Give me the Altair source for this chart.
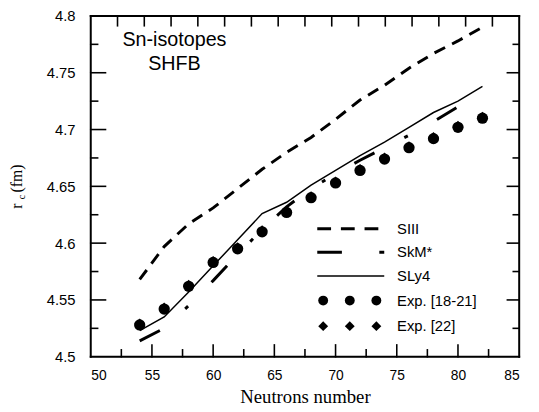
import altair as alt
import pandas as pd

# ---- data ----
neutrons = [54, 56, 58, 60, 62, 64, 66, 68, 70, 72, 74, 76, 78, 80, 82]
siii = [4.568, 4.597, 4.617, 4.631, 4.648, 4.665, 4.680, 4.693, 4.709, 4.726, 4.739, 4.754, 4.767, 4.778, 4.790]
skm = [4.514, 4.525, 4.545, 4.567, 4.590, 4.612, 4.632, 4.648, 4.661, 4.673, 4.684, 4.695, 4.707, 4.720, 4.730]
sly4 = [4.523, 4.535, 4.557, 4.580, 4.603, 4.626, 4.636, 4.651, 4.664, 4.677, 4.689, 4.702, 4.715, 4.725, 4.738]
exp_18_21 = [4.528, 4.542, 4.562, 4.583, 4.595, 4.610, 4.627, 4.640, 4.653, 4.664, 4.674, 4.684, 4.692, 4.702, 4.710]
exp_22 = [4.529, 4.543, 4.563, 4.584, 4.596, 4.611, 4.628, 4.641, 4.654, 4.665, 4.675, 4.685, 4.693, 4.703, 4.711]

legend_labels = ["SIII", "SkM*", "SLy4", "Exp. [18-21]", "Exp. [22]"]
title_lines = ["Sn-isotopes", "SHFB"]

x_labels = [50, 55, 60, 65, 70, 75, 80, 85]
x_major = [55, 60, 65, 70, 75, 80]
x_minor = [52.5, 57.5, 62.5, 67.5, 72.5, 77.5, 82.5]
y_labels = [4.5, 4.55, 4.6, 4.65, 4.7, 4.75, 4.8]
y_major = [4.55, 4.6, 4.65, 4.7, 4.75]
y_minor = [4.525, 4.575, 4.625, 4.675, 4.725, 4.775]
top_ticks = [50 + k * 35 / 16 for k in range(1, 16)]

W, H = 435, 346
X0, X1, Y0, Y1 = 50, 85, 4.5, 4.8
SANS = "Liberation Sans"
SERIF = "Liberation Serif"

df = pd.DataFrame({"N": neutrons, "SIII": siii, "SkM": skm, "SLy4": sly4,
                   "E1": exp_18_21, "E2": exp_22})
one = pd.DataFrame({"k": [0]})

xs = alt.Scale(domain=[X0, X1], range=[0, W], nice=False, zero=False, padding=0)
ys = alt.Scale(domain=[Y0, Y1], range=[H, 0], nice=False, zero=False, padding=0)

base = alt.Chart(df)

x_axis = alt.Axis(values=x_labels, ticks=False, domain=False, grid=False,
                  labelFont=SANS, labelFontSize=14, labelColor="black",
                  labelPadding=12, title="Neutrons number", titleFont=SERIF,
                  titleFontSize=19, titleFontWeight="normal", titleColor="black",
                  titlePadding=5, format="d")
y_axis = alt.Axis(values=y_labels, ticks=False, domain=False, grid=False,
                  labelFont=SANS, labelFontSize=15, labelColor="black",
                  labelPadding=16, title=None,
                  labelExpr="datum.value == 4.5 ? '4.5' : format(datum.value, '.3~f')")

siii_line = base.mark_line(color="black", strokeWidth=3, strokeDash=[12, 8]).encode(
    x=alt.X("N:Q", scale=xs, axis=x_axis),
    y=alt.Y("SIII:Q", scale=ys, axis=y_axis),
)
skm_line = base.mark_line(color="black", strokeWidth=3, strokeDash=[23, 34, 4, 34]).encode(
    x=alt.X("N:Q", scale=xs), y=alt.Y("SkM:Q", scale=ys))
sly4_line = base.mark_line(color="black", strokeWidth=1.5).encode(
    x=alt.X("N:Q", scale=xs), y=alt.Y("SLy4:Q", scale=ys))
e1_pts = base.mark_point(shape="circle", filled=True, color="black", size=130, opacity=1).encode(
    x=alt.X("N:Q", scale=xs), y=alt.Y("E1:Q", scale=ys))
e2_pts = base.mark_point(shape="diamond", filled=True, color="black", size=120, opacity=1).encode(
    x=alt.X("N:Q", scale=xs), y=alt.Y("E2:Q", scale=ys))

# ---- frame and inward ticks (same linear mapping as the scales) ----
def px(v):
    return (v - X0) / (X1 - X0) * W

def py(v):
    return H - (v - Y0) / (Y1 - Y0) * H

frame = []
def hseg(xa, xb, yy, w=1.6):
    frame.append(alt.Chart(one).mark_rule(color="black", strokeWidth=w, strokeCap="square").encode(
        x=alt.value(xa), x2=alt.value(xb), y=alt.value(yy)))

def vseg(xx, ya, yb, w=1.6):
    frame.append(alt.Chart(one).mark_rule(color="black", strokeWidth=w, strokeCap="square").encode(
        x=alt.value(xx), y=alt.value(ya), y2=alt.value(yb)))

# box
hseg(0, W, 0, 2)
hseg(0, W, H, 2)
vseg(0, 0, H, 2)
vseg(W, 0, H, 2)
# ticks
for v in x_major:
    vseg(px(v), H, H - 12)
for v in x_minor:
    vseg(px(v), H, H - 7)
for v in top_ticks:
    vseg(px(v), 0, 10)
for v in y_major:
    hseg(0, 15, py(v))
    hseg(W, W - 12, py(v))
for v in y_minor:
    hseg(0, 7, py(v))
    hseg(W, W - 6, py(v))

# ---- legend (drawn in the plot area) ----
rows = [216, 240, 264, 289, 315]
lx0, lx1, ltx = 230, 298, 311
leg = []
leg.append(alt.Chart(pd.DataFrame({"t": [legend_labels[0]]})).mark_rule(
    color="black", strokeWidth=3, strokeDash=[14, 10]).encode(
    x=alt.value(lx0), x2=alt.value(lx1), y=alt.value(rows[0])))
leg.append(alt.Chart(pd.DataFrame({"t": [legend_labels[1]]})).mark_rule(
    color="black", strokeWidth=3, strokeDash=[25, 38, 5, 10]).encode(
    x=alt.value(lx0), x2=alt.value(lx1), y=alt.value(rows[1])))
leg.append(alt.Chart(pd.DataFrame({"t": [legend_labels[2]]})).mark_rule(
    color="black", strokeWidth=1.5).encode(
    x=alt.value(lx0), x2=alt.value(lx1), y=alt.value(rows[2])))
for lp in [236, 263, 290]:
    leg.append(alt.Chart(pd.DataFrame({"t": [legend_labels[3]]})).mark_point(
        shape="circle", filled=True, color="black", size=100, opacity=1).encode(
        x=alt.value(lp), y=alt.value(rows[3])))
    leg.append(alt.Chart(pd.DataFrame({"t": [legend_labels[4]]})).mark_point(
        shape="diamond", filled=True, color="black", size=100, opacity=1).encode(
        x=alt.value(lp), y=alt.value(rows[4])))
for i, lab in enumerate(legend_labels):
    leg.append(alt.Chart(pd.DataFrame({"t": [lab]})).mark_text(
        font=SANS, fontSize=15, align="left", baseline="middle", color="black").encode(
        x=alt.value(ltx), y=alt.value(rows[i]), text="t:N"))

# ---- annotation text ----
ann = []
for i, line in enumerate(title_lines):
    ann.append(alt.Chart(pd.DataFrame({"t": [line]})).mark_text(
        font=SANS, fontSize=20, align="center", baseline="middle", color="black").encode(
        x=alt.value(85), y=alt.value(25 + 24 * i), text="t:N"))

# y-axis title  r_c (fm)
ann.append(alt.Chart(pd.DataFrame({"t": ["r"]})).mark_text(
    font=SERIF, fontSize=16, angle=270, align="center", baseline="middle", color="black").encode(
    x=alt.value(-75), y=alt.value(193), text="t:N"))
ann.append(alt.Chart(pd.DataFrame({"t": ["c"]})).mark_text(
    font=SERIF, fontSize=10, angle=270, align="center", baseline="middle", color="black").encode(
    x=alt.value(-70), y=alt.value(184), text="t:N"))
ann.append(alt.Chart(pd.DataFrame({"t": ["(fm)"]})).mark_text(
    font=SERIF, fontSize=16, angle=270, align="center", baseline="middle", color="black").encode(
    x=alt.value(-75), y=alt.value(165), text="t:N"))

chart = alt.layer(siii_line, skm_line, sly4_line, e1_pts, e2_pts, *frame, *leg, *ann).properties(
    width=W, height=H,
    autosize=alt.AutoSizeParams(type="none"),
    padding={"left": 84, "top": 5, "right": 12, "bottom": 50},
).configure_view(strokeWidth=0).configure(background="white")

chart.save("out.html", embed_options={"renderer": "svg", "actions": False})
